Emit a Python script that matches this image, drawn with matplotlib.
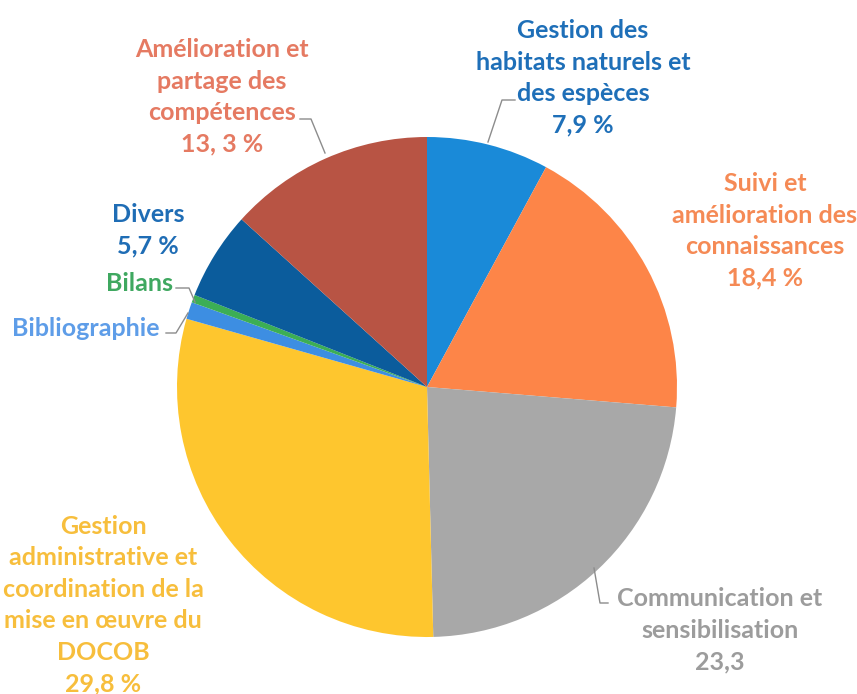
import matplotlib.pyplot as plt

# ---------------- DATA ---------------- #
categories = ['Gestion des habitats naturels et des espèces',
              'Suivi et amélioration des connaissances',
              'Communication et sensibilisation',
              'Gestion administrative et coordination de la mise en œuvre du DOCOB',
              'Bibliographie', 'Bilans', 'Divers',
              'Amélioration et partage des compétences']
values = [7.9, 18.4, 23.3, 29.8, 1.1, 0.5, 5.7, 13.3]
slice_colors = ['#1a8ad8', '#fd8548', '#a8a8a8', '#fec62e',
                '#3d8ee2', '#3cae55', '#0b5c9c', '#b85444']

label_texts = ['Gestion des\nhabitats naturels et\ndes espèces\n7,9 %',
               'Suivi et\namélioration des\nconnaissances\n18,4 %',
               'Communication et\nsensibilisation\n23,3',
               'Gestion\nadministrative et\ncoordination de la\nmise en œuvre du\nDOCOB\n29,8 %',
               'Bibliographie', 'Bilans', 'Divers\n5,7 %',
               'Amélioration et\npartage des\ncompétences\n13, 3 %']
label_colors = ['#1e6fb8', '#f58a55', '#9c9c9c', '#f7be3c',
                '#5e9de8', '#3fa860', '#1f6db5', '#e57a62']

# ---------------- LAYOUT (pixels) ---------------- #
W, H = 857, 694
label_pos = [(583, 78), (765, 231), (720, 630), (103, 605),
             (86, 328), (140, 283), (148, 230), (222, 97)]
leaders = [[(515, 100), (502, 100), (488, 142)],
           [],
           [(594, 568), (600, 603), (608, 603)],
           [],
           [(166, 333), (176, 333), (188, 313)],
           [(176, 288), (189, 288), (195, 302)],
           [],
           [(300, 119), (311, 119), (325, 153)]]

plt.rcParams['font.family'] = ['Lato', 'DejaVu Sans']

fig = plt.figure(figsize=(W / 100, H / 100), dpi=100)
ax = fig.add_axes([0, 0, 1, 1])

ax.pie(values, colors=slice_colors, startangle=90, counterclock=False,
       center=(427, H - 387), radius=250, frame=True,
       wedgeprops=dict(linewidth=0))
ax.set_xlim(0, W)
ax.set_ylim(0, H)
ax.set_aspect('equal')
ax.axis('off')

for txt, col, (x, y), pts in zip(label_texts, label_colors, label_pos, leaders):
    ax.text(x, H - y, txt, color=col, fontsize=18, fontweight='bold',
            ha='center', va='center', multialignment='center', linespacing=1.45)
    if pts:
        ax.plot([p[0] for p in pts], [H - p[1] for p in pts],
                color='#8c8c8c', linewidth=1)

fig.savefig('out.png', dpi=100)
